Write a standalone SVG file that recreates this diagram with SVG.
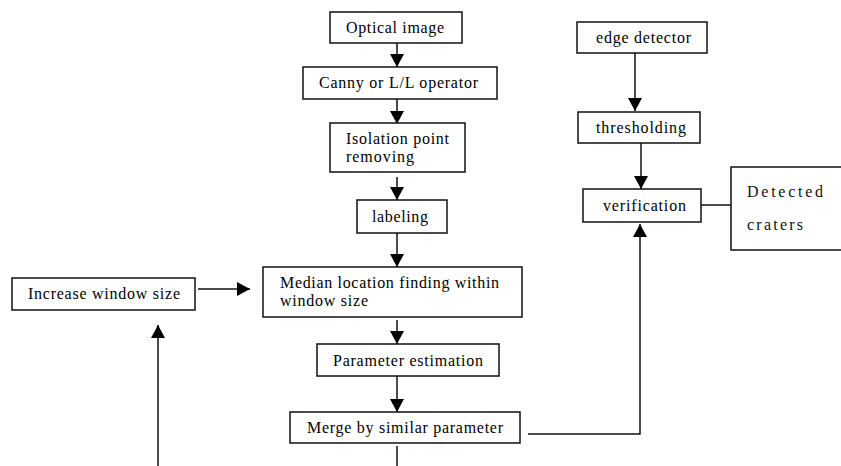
<svg xmlns="http://www.w3.org/2000/svg" width="841" height="466" viewBox="0 0 841 466">
<style>
.box{fill:#fff;stroke:#111;stroke-width:1.5}
.t{font-family:"Liberation Serif","Times New Roman",serif;font-size:16px;fill:#000}
.d{font-family:"Liberation Serif","Times New Roman",serif;font-size:16px;fill:#111}
.ln{fill:none;stroke:#111;stroke-width:1.5}
</style>
<defs>
<marker id="ah" markerUnits="userSpaceOnUse" markerWidth="15" markerHeight="15" refX="13" refY="7" orient="auto">
<path d="M0,0 L13,7 L0,14 z" fill="#000"/>
</marker>
</defs>
<rect width="841" height="466" fill="#fff"/>
<g id="connectors">
<line class="ln" x1="397" y1="43" x2="397" y2="67" marker-end="url(#ah)"/>
<line class="ln" x1="397" y1="99" x2="397" y2="124" marker-end="url(#ah)"/>
<line class="ln" x1="397" y1="177" x2="397" y2="200" marker-end="url(#ah)"/>
<line class="ln" x1="397" y1="233" x2="397" y2="267" marker-end="url(#ah)"/>
<line class="ln" x1="397" y1="320" x2="397" y2="344" marker-end="url(#ah)"/>
<line class="ln" x1="397" y1="376" x2="397" y2="412" marker-end="url(#ah)"/>
<line class="ln" x1="397" y1="446" x2="397" y2="466"/>
<polyline class="ln" points="528,434 640,434 640,224" marker-end="url(#ah)"/>
<line class="ln" x1="198" y1="289" x2="250" y2="289" marker-end="url(#ah)"/>
<line class="ln" x1="158" y1="466" x2="158" y2="325" marker-end="url(#ah)"/>
<line class="ln" x1="635" y1="53" x2="635" y2="111" marker-end="url(#ah)"/>
<line class="ln" x1="641" y1="143" x2="641" y2="189" marker-end="url(#ah)"/>
<line class="ln" x1="701" y1="205" x2="731" y2="205"/>
</g>
<g id="optical">
<rect class="box" x="330" y="12" width="132" height="31"/>
<text class="t" x="346" y="33" textLength="98" lengthAdjust="spacing">Optical image</text>
</g>
<g id="canny">
<rect class="box" x="303" y="67" width="194" height="32"/>
<text class="t" x="319" y="88" textLength="159" lengthAdjust="spacing">Canny or L/L operator</text>
</g>
<g id="isolation">
<rect class="box" x="330" y="123" width="135" height="49"/>
<text class="t" x="346" y="144" textLength="103" lengthAdjust="spacing">Isolation point</text>
<text class="t" x="346" y="162" textLength="68" lengthAdjust="spacing">removing</text>
</g>
<g id="labeling">
<rect class="box" x="357" y="200" width="90" height="33"/>
<text class="t" x="372" y="222" textLength="56" lengthAdjust="spacing">labeling</text>
</g>
<g id="median">
<rect class="box" x="263" y="267" width="259" height="50"/>
<text class="t" x="280" y="288" textLength="219" lengthAdjust="spacing">Median location finding within</text>
<text class="t" x="280" y="306" textLength="88" lengthAdjust="spacing">window size</text>
</g>
<g id="parameter">
<rect class="box" x="317" y="344" width="182" height="32"/>
<text class="t" x="333" y="366" textLength="150" lengthAdjust="spacing">Parameter estimation</text>
</g>
<g id="merge">
<rect class="box" x="290" y="412" width="230" height="31"/>
<text class="t" x="307" y="433" textLength="196" lengthAdjust="spacing">Merge by similar parameter</text>
</g>
<g id="increase">
<rect class="box" x="12" y="278" width="183" height="32"/>
<text class="t" x="28" y="299" textLength="152" lengthAdjust="spacing">Increase window size</text>
</g>
<g id="edge">
<rect class="box" x="577" y="22" width="130" height="31"/>
<text class="t" x="596" y="43" textLength="95" lengthAdjust="spacing">edge detector</text>
</g>
<g id="thresholding">
<rect class="box" x="578" y="112" width="122" height="31"/>
<text class="t" x="596" y="133" textLength="90" lengthAdjust="spacing">thresholding</text>
</g>
<g id="verification">
<rect class="box" x="583" y="189" width="118" height="33"/>
<text class="t" x="603" y="211" textLength="83" lengthAdjust="spacing">verification</text>
</g>
<g id="detected">
<rect class="box" x="731" y="167" width="120" height="83"/>
<text class="d" x="747" y="197" textLength="76" lengthAdjust="spacing">Detected</text>
<text class="d" x="747" y="230" textLength="56" lengthAdjust="spacing">craters</text>
</g>
</svg>
